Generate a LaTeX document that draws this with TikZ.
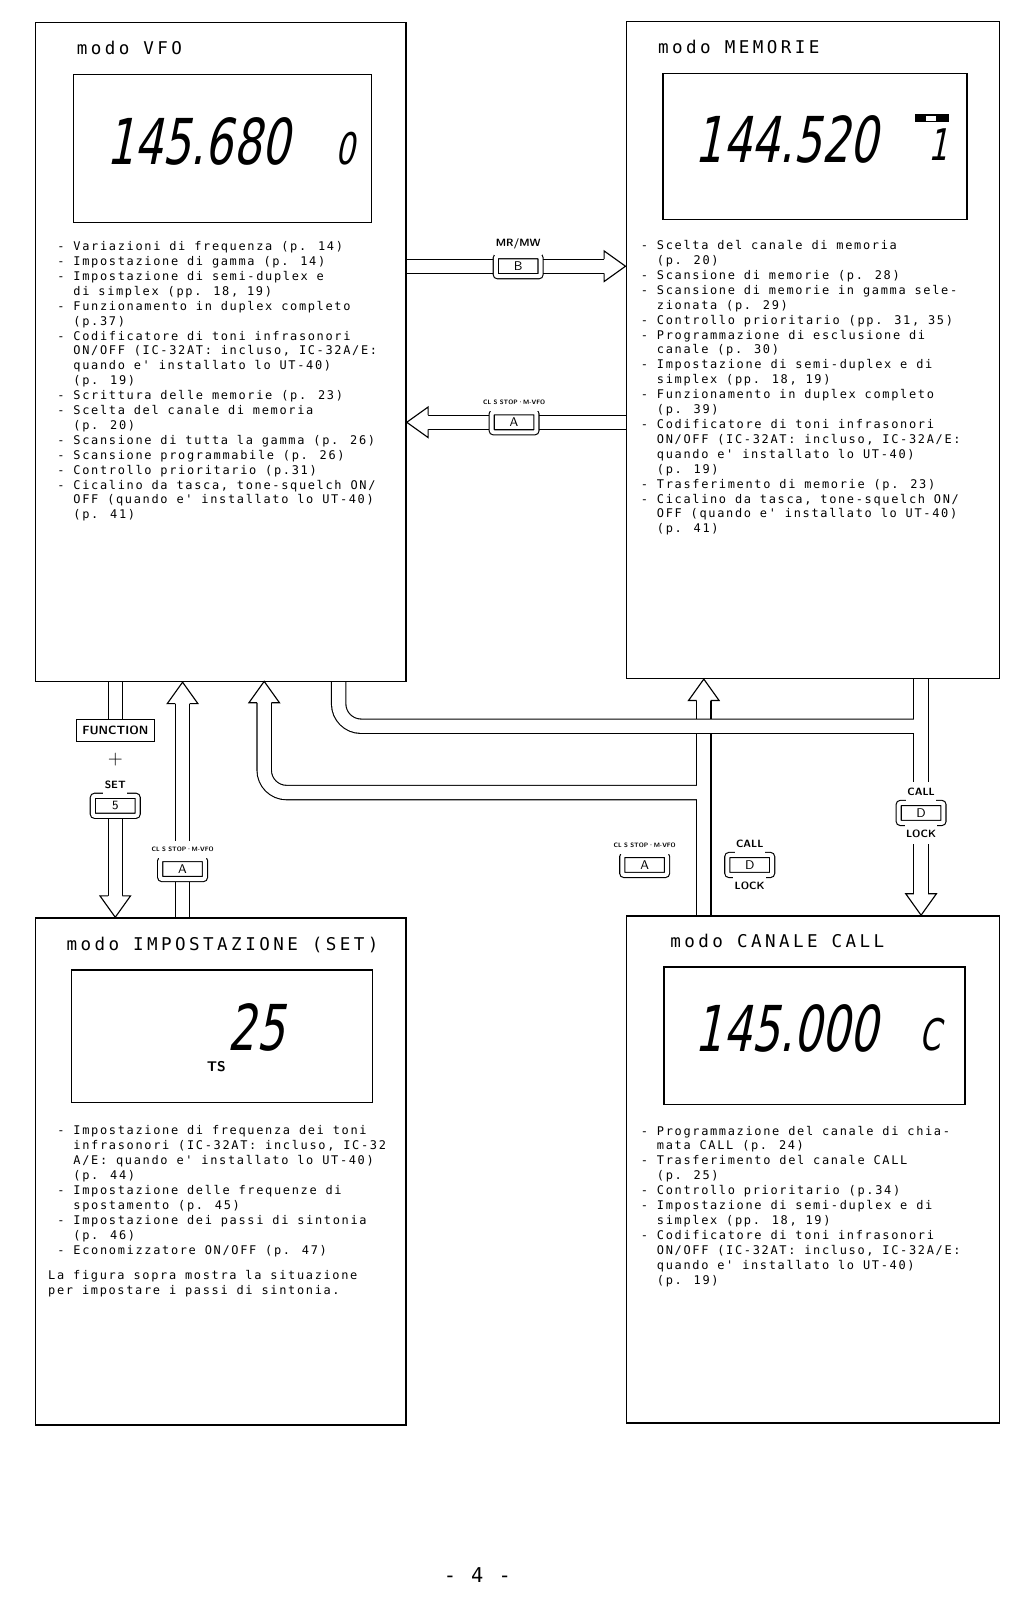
\documentclass[tikz,border=0pt]{standalone}
\usepackage{fontspec}
\usetikzlibrary{fit,backgrounds}
\newfontfamily\dotfont{DejaVu Sans Mono}[LetterSpace=14]
\newfontfamily\plotfont{DejaVu Sans Mono}[LetterSpace=19.5]
\newfontfamily\lcdfont{DejaVu Sans}[FakeStretch=0.7,FakeSlant=0.2]
\newcommand\cont{\phantom{- }}

\begin{document}
\begin{tikzpicture}[
        x=0.0255cm, y=-0.0255cm,
        modebox/.style={draw, line width=1.1pt, inner sep=0pt},
        lcdbox/.style={draw, line width=0.9pt, inner sep=0pt},
        modetitle/.style={font=\plotfont\fontsize{12.5}{14}\selectfont, anchor=west, inner sep=0pt},
        modelist/.style={font=\dotfont\fontsize{8.5}{10.6}\selectfont, align=left, anchor=north west, inner sep=0pt},
        bigdigits/.style={font=\lcdfont\fontsize{45}{45}\selectfont, inner sep=0pt},
        smalldigit/.style={font=\lcdfont\fontsize{31}{31}\selectfont, inner sep=0pt},
        pipe/.style={double, double distance=0.33cm, line width=0.8pt},
        core/.style={white, line width=0.33cm},
        tohead/.style={shorten >=0.535cm},
        keycap/.style={draw, double, double distance=0.1cm, line width=0.8pt, fill=white,
            rounded corners=1.5pt, minimum width=1.12cm, minimum height=0.5cm, inner sep=0pt,
            font=\sffamily\fontsize{9}{9}\selectfont},
        fnkeycap/.style={draw, line width=0.8pt, fill=white, minimum width=1.94cm,
            minimum height=0.54cm, inner sep=0pt, font=\sffamily\bfseries\fontsize{8.5}{8.5}\selectfont},
        keyname/.style={font=\sffamily\bfseries\fontsize{7.5}{7.5}\selectfont, fill=white,
            inner xsep=1pt, inner ysep=4.5pt, label distance=0pt},
        tinyname/.style={font=\sffamily\bfseries\fontsize{4.5}{4.5}\selectfont, fill=white,
            inner xsep=1pt, inner ysep=4.5pt, label distance=0pt},
        hhead/.pic={\draw[fill=white, line width=0.8pt] (-21,-7) -- (-21,-15) -- (0,0) -- (-21,15) -- (-21,7);}
    ]
    \useasboundingbox (0,0) rectangle (1014.7,1568.6);

    % modo VFO
    \node[modebox, fit={(35,22) (398,668)}] (vfo) {};
    \node[modetitle] (vfotitle) at (75,47) {modo VFO};
    \node[lcdbox, fit={(72,73) (364,218)}] (vfolcd) {};
    \node[bigdigits] (vfofreq) at (194,139) {145.680};
    \node[smalldigit] (vfoch) at (338,146) {0};
    \node[modelist] (vfolist) at (56,236.5) {- Variazioni di frequenza (p. 14)\\
        - Impostazione di gamma (p. 14)\\
        - Impostazione di semi-duplex e\\
        \cont di simplex (pp. 18, 19)\\
        - Funzionamento in duplex completo\\
        \cont (p.37)\\
        - Codificatore di toni infrasonori\\
        \cont ON/OFF (IC-32AT: incluso, IC-32A/E:\\
        \cont quando e' installato lo UT-40)\\
        \cont (p. 19)\\
        - Scrittura delle memorie (p. 23)\\
        - Scelta del canale di memoria\\
        \cont (p. 20)\\
        - Scansione di tutta la gamma (p. 26)\\
        - Scansione programmabile (p. 26)\\
        - Controllo prioritario (p.31)\\
        - Cicalino da tasca, tone-squelch ON/\\
        \cont OFF (quando e' installato lo UT-40)\\
        \cont (p. 41)};

    % modo MEMORIE
    \node[modebox, fit={(614,21) (980,665)}] (mem) {};
    \node[modetitle] (memtitle) at (645,46) {modo MEMORIE};
    \node[lcdbox, fit={(650,72) (948,215)}] (memlcd) {};
    \node[bigdigits] (memfreq) at (771,137) {144.520};
    \fill (897,112) rectangle (930,120);
    \fill[white] (908,113.5) rectangle (918,118.5);
    \node[smalldigit] (memch) at (920,142) {1};
    \node[modelist] (memlist) at (628,235.5) {- Scelta del canale di memoria\\
        \cont (p. 20)\\
        - Scansione di memorie (p. 28)\\
        - Scansione di memorie in gamma sele-\\
        \cont zionata (p. 29)\\
        - Controllo prioritario (pp. 31, 35)\\
        - Programmazione di esclusione di\\
        \cont canale (p. 30)\\
        - Impostazione di semi-duplex e di\\
        \cont simplex (pp. 18, 19)\\
        - Funzionamento in duplex completo\\
        \cont (p. 39)\\
        - Codificatore di toni infrasonori\\
        \cont ON/OFF (IC-32AT: incluso, IC-32A/E:\\
        \cont quando e' installato lo UT-40)\\
        \cont (p. 19)\\
        - Trasferimento di memorie (p. 23)\\
        - Cicalino da tasca, tone-squelch ON/\\
        \cont OFF (quando e' installato lo UT-40)\\
        \cont (p. 41)};

    % modo IMPOSTAZIONE
    \node[modebox, fit={(35,900) (398,1397)}] (set) {};
    \node[modetitle] (settitle) at (65,926) {modo IMPOSTAZIONE (SET)};
    \node[lcdbox, fit={(70,951) (365,1081)}] (setlcd) {};
    \node[bigdigits] (setval) at (251,1007) {25};
    \node[font=\sffamily\bfseries\fontsize{10}{10}\selectfont, inner sep=0pt] (setts) at (212,1046) {TS};
    \node[modelist] (setlist) at (56,1103.5) {- Impostazione di frequenza dei toni\\
        \cont infrasonori (IC-32AT: incluso, IC-32\\
        \cont A/E: quando e' installato lo UT-40)\\
        \cont (p. 44)\\
        - Impostazione delle frequenze di\\
        \cont spostamento (p. 45)\\
        - Impostazione dei passi di sintonia\\
        \cont (p. 46)\\
        - Economizzatore ON/OFF (p. 47)};
    \node[modelist] (setnote) at (47,1245.5) {La figura sopra mostra la situazione\\
        per impostare i passi di sintonia.};

    % modo CANALE CALL
    \node[modebox, fit={(614,898) (980,1395)}] (call) {};
    \node[modetitle] (calltitle) at (657,922) {modo CANALE CALL};
    \node[lcdbox, fit={(651,948) (946,1083)}] (calllcd) {};
    \node[bigdigits] (callfreq) at (771,1008) {145.000};
    \node[smalldigit] (callch) at (912,1014) {C};
    \node[modelist] (calllist) at (628,1103.5) {- Programmazione del canale di chia-\\
        \cont mata CALL (p. 24)\\
        - Trasferimento del canale CALL\\
        \cont (p. 25)\\
        - Controllo prioritario (p.34)\\
        - Impostazione di semi-duplex e di\\
        \cont simplex (pp. 18, 19)\\
        - Codificatore di toni infrasonori\\
        \cont ON/OFF (IC-32AT: incluso, IC-32A/E:\\
        \cont quando e' installato lo UT-40)\\
        \cont (p. 19)};

    % tasti
    \node[keycap, label={[keyname]above:MR/MW}] (keyB) at (508,261) {B};
    \node[keycap, label={[tinyname]above:CL S STOP·M-VFO}] (keyA) at (504,414) {A};
    \node[fnkeycap] (fnkey) at (113,716) {FUNCTION};
    \node[font=\sffamily\fontsize{14}{14}\selectfont, inner sep=0pt] (plus) at (113,745) {+};
    \node[keycap, label={[keyname]above:SET}] (key5) at (113,790) {5};
    \node[keycap, label={[tinyname]above:CL S STOP·M-VFO}] (keyAset) at (179,852) {A};
    \node[keycap, label={[tinyname]above:CL S STOP·M-VFO}] (keyAcall) at (632,848) {A};
    \node[keycap, label={[keyname]above:CALL}, label={[keyname]below:LOCK}] (keyDcall) at (735,848) {D};
    \node[keycap, label={[keyname]above:CALL}, label={[keyname]below:LOCK}] (keyDmem) at (903,797) {D};

    \coordinate (jb) at (690,777);
    \coordinate (vin) at (259,668);
    \coordinate (vout) at (332,668);
    \coordinate (jc) at (903,712);

    \node[font=\dotfont\fontsize{14.5}{14.5}\selectfont, inner sep=0pt] (pagenum) at (468,1544) {- 4 -};

    \begin{scope}[on background layer]
        \draw[pipe, tohead] (vfo.east |- keyB) -- (mem.west |- keyB);
        \pic at (mem.west |- keyB) {hhead};
        \draw[pipe, tohead] (mem.west |- keyA) -- (vfo.east |- keyA);
        \pic[rotate=180] at (vfo.east |- keyA) {hhead};

        \draw[pipe] (vfo.south -| fnkey) -- (fnkey.north);
        \draw[pipe, tohead] (key5.south) -- (set.north -| key5);
        \pic[rotate=-90] at (set.north -| key5) {hhead};
        \draw[pipe, tohead] (set.north -| keyAset) -- (vfo.south -| keyAset);
        \pic[rotate=90] at (vfo.south -| keyAset) {hhead};

        \draw[pipe, tohead] (call.north -| jb) -- (mem.south -| jb);
        \pic[rotate=90] at (mem.south -| jb) {hhead};
        \draw[pipe, tohead, rounded corners=0.56cm] (jb) -| (vin);
        \pic[rotate=90] at (vin) {hhead};
        \draw[core] (jb) ++(0,-20) -- ++(0,40);

        \draw[pipe, tohead] (mem.south -| jc) -- (call.north -| jc);
        \pic[rotate=-90] at (call.north -| jc) {hhead};
        \draw[pipe, rounded corners=0.56cm] (vout) |- (jc);
        \draw[core] (jc) ++(0,-20) -- ++(0,40);
    \end{scope}
\end{tikzpicture}
\end{document}
